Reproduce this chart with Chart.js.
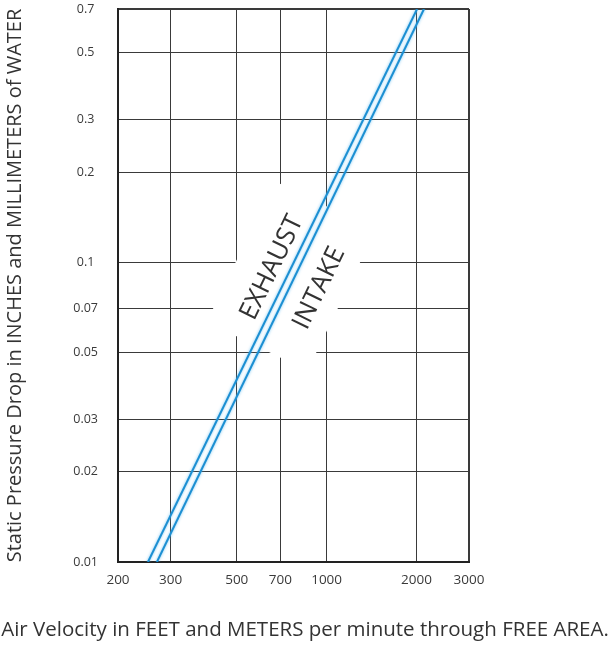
<!DOCTYPE html>
<html>
<head>
<meta charset="utf-8">
<script src="https://cdn.jsdelivr.net/npm/chart.js@4/dist/chart.umd.min.js"></script>
<style>
  html, body { margin: 0; padding: 0; background: #fff; }
  canvas { display: block; }
</style>
</head>
<body>
<canvas id="pressure-drop" width="611" height="646"></canvas>
<script>
// tick values
const velocityTicks = [200, 300, 500, 700, 1000, 2000, 3000];
const pressureTicks = [0.01, 0.02, 0.03, 0.05, 0.07, 0.1, 0.2, 0.3, 0.5, 0.7];

// the two curves (ft/min vs in. water), straight on log-log paper
const exhaustVelocity = [252, 2010];
const exhaustPressure = [0.01, 0.7];
const intakeVelocity = [270, 2120];
const intakePressure = [0.01, 0.7];

// where the labels sit, in data units
const exhaustLabelAt = [656, 0.096];
const intakeLabelAt = [945, 0.082];
const labelMaskAt = [761, 0.09];

const xTitle = "Air Velocity in FEET and METERS per minute through FREE AREA.";
const yTitle = "Static Pressure Drop in INCHES and MILLIMETERS of WATER";

function lineAngle(chart) {
    const xs = chart.scales.x, ys = chart.scales.y;
    const x0 = xs.getPixelForValue(exhaustVelocity[0]), y0 = ys.getPixelForValue(exhaustPressure[0]);
    const x1 = xs.getPixelForValue(exhaustVelocity[1]), y1 = ys.getPixelForValue(exhaustPressure[1]);
    return Math.atan2(y1 - y0, x1 - x0);
}

const labelsPlugin = {
    id: "curveLabels",
    beforeDatasetsDraw(chart) {
        // white patch that breaks the grid behind the two labels
        const ctx = chart.ctx;
        const xs = chart.scales.x, ys = chart.scales.y;
        ctx.save();
        ctx.translate(xs.getPixelForValue(labelMaskAt[0]), ys.getPixelForValue(labelMaskAt[1]));
        ctx.rotate(lineAngle(chart));
        ctx.fillStyle = "#fff";
        ctx.fillRect(-78, -56, 156, 112);
        ctx.restore();
    },
    beforeDatasetDraw(chart) {
        const ctx = chart.ctx;
        ctx.save();
        ctx.shadowColor = "rgba(90,185,240,0.8)";
        ctx.shadowBlur = 3;
    },
    afterDatasetDraw(chart) {
        chart.ctx.restore();
    },
    afterDatasetsDraw(chart) {
        const ctx = chart.ctx;
        const xs = chart.scales.x, ys = chart.scales.y;
        const a = lineAngle(chart);
        ctx.save();
        ctx.font = "26px 'Open Sans'";
        ctx.fillStyle = "#333";
        ctx.textAlign = "center";
        ctx.textBaseline = "middle";
        [["EXHAUST", exhaustLabelAt], ["INTAKE", intakeLabelAt]].forEach(([txt, at]) => {
            ctx.save();
            ctx.translate(xs.getPixelForValue(at[0]), ys.getPixelForValue(at[1]));
            ctx.rotate(a);
            ctx.fillText(txt, 0, 0);
            ctx.restore();
        });
        ctx.restore();
    },
    afterDraw(chart) {
        const ctx = chart.ctx;
        const area = chart.chartArea;
        ctx.save();
        ctx.fillStyle = "#333";
        ctx.textAlign = "center";
        ctx.textBaseline = "alphabetic";
        ctx.font = "20.5px 'Open Sans'";
        ctx.fillText(xTitle, 305, 636);
        ctx.translate(21, (area.top + area.bottom) / 2);
        ctx.rotate(-Math.PI / 2);
        ctx.font = "20px 'Open Sans'";
        ctx.fillText(yTitle, 0, 0);
        ctx.restore();
    }
};

const ctx = document.getElementById("pressure-drop").getContext("2d");

new Chart(ctx, {
    type: "line",
    data: {
        datasets: [{
            label: "Exhaust",
            data: exhaustVelocity.map((v, i) => ({ x: v, y: exhaustPressure[i] })),
            borderColor: "#1c8fd2",
            borderWidth: 2,
            pointRadius: 0,
            fill: false,
            tension: 0
        }, {
            label: "Intake",
            data: intakeVelocity.map((v, i) => ({ x: v, y: intakePressure[i] })),
            borderColor: "#1c8fd2",
            borderWidth: 2,
            pointRadius: 0,
            fill: false,
            tension: 0
        }]
    },
    options: {
        responsive: false,
        animation: false,
        layout: { autoPadding: false, padding: { top: 9, right: 142, bottom: 0, left: 0 } },
        plugins: {
            legend: { display: false },
            tooltip: { enabled: false }
        },
        scales: {
            x: {
                type: "logarithmic",
                min: 200,
                max: 3000,
                afterBuildTicks: (scale) => { scale.ticks = velocityTicks.map(v => ({ value: v })); },
                afterFit: (scale) => { scale.height = 84; },
                ticks: {
                    autoSkip: false,
                    maxRotation: 0,
                    padding: 10,
                    color: "#3a3a3a",
                    font: { family: "'Open Sans'", size: 13.5 },
                    callback: (v) => String(v)
                },
                grid: {
                    color: "#3a3a3a",
                    lineWidth: (c) => (c.tick && c.tick.value === 3000 ? 2 : 1),
                    drawTicks: false
                },
                border: { display: true, color: "#222", width: 2 }
            },
            y: {
                type: "logarithmic",
                min: 0.01,
                max: 0.7,
                afterBuildTicks: (scale) => { scale.ticks = pressureTicks.map(v => ({ value: v })); },
                afterFit: (scale) => { scale.width = 118; },
                ticks: {
                    autoSkip: false,
                    padding: 1,
                    crossAlign: "center",
                    color: "#3a3a3a",
                    font: { family: "'Open Sans'", size: 12.5 },
                    callback: (v) => String(v)
                },
                grid: {
                    color: "#3a3a3a",
                    lineWidth: (c) => (c.tick && c.tick.value === 0.7 ? 2 : 1),
                    drawTicks: true,
                    tickLength: 19,
                    tickColor: "rgba(0,0,0,0)"
                },
                border: { display: true, color: "#222", width: 2 }
            }
        }
    },
    plugins: [labelsPlugin]
});
</script>
</body>
</html>
